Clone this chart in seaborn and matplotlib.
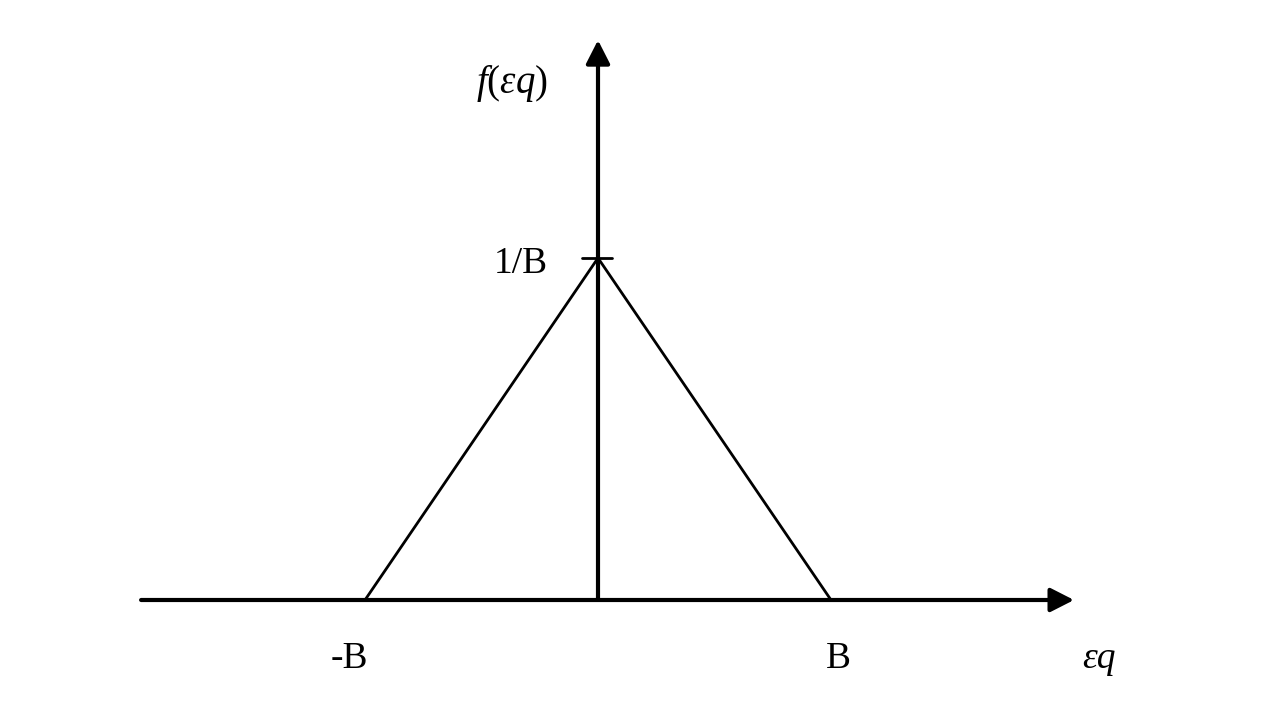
import matplotlib
matplotlib.use("Agg")
import matplotlib.pyplot as plt
import seaborn as sns
import pandas as pd

# Data (in units of B)
eps_vals = [-1.0, 0.0, 1.0]
f_vals = [0.0, 1.0, 0.0]
x_tick_labels = ["-B", "B"]
y_tick_label = "1/B"

sns.set_theme(style="white")
plt.rcParams['font.family'] = ['Liberation Serif', 'DejaVu Serif']
plt.rcParams['mathtext.fontset'] = 'custom'
plt.rcParams['mathtext.rm'] = 'Liberation Serif'
plt.rcParams['mathtext.it'] = 'Liberation Serif:italic'
plt.rcParams['text.color'] = 'black'

fig = plt.figure(figsize=(12.8, 7.2), dpi=100)
ax = fig.add_axes([0, 0, 1, 1])
sx, sy = 233.0, 342.0
x0, y0 = 598.0, 600.0
ax.set_xlim((0 - x0) / sx, (1280 - x0) / sx)
ax.set_ylim((y0 - 720) / sy, (y0 - 0) / sy)
ax.axis('off')

df = pd.DataFrame({"eps": eps_vals, "f": f_vals})
sns.lineplot(data=df, x="eps", y="f", ax=ax, color="black", linewidth=2, sort=False)

arrow = dict(arrowstyle="-|>,head_length=0.55,head_width=0.28", lw=3, color="black",
             mutation_scale=26, shrinkA=0, shrinkB=0)
ax.annotate("", xy=(2.043, 0), xytext=(-1.961, 0), arrowprops=arrow)
ax.annotate("", xy=(0, 1.637), xytext=(0, 0), arrowprops=arrow)

# tick at peak
ax.plot([-0.0687, 0.0601], [1, 1], color="black", lw=2)

fs = 27
ax.text(-0.2146, 0.956, y_tick_label, ha="right", va="baseline", fontsize=fs, color="black")
ax.text(-1.0665, -0.199, x_tick_labels[0], ha="center", va="baseline", fontsize=fs, color="black")
ax.text(1.030, -0.199, x_tick_labels[1], ha="center", va="baseline", fontsize=fs, color="black")
ax.text(2.150, -0.199, "εq", ha="center", va="baseline", fontsize=fs, style="italic", color="black")
ax.text(-0.369, 1.483, r"$f\mathrm{(}\varepsilon q\mathrm{)}$", ha="center", va="baseline",
        fontsize=28, color="black")

fig.savefig("out.png", dpi=100)
